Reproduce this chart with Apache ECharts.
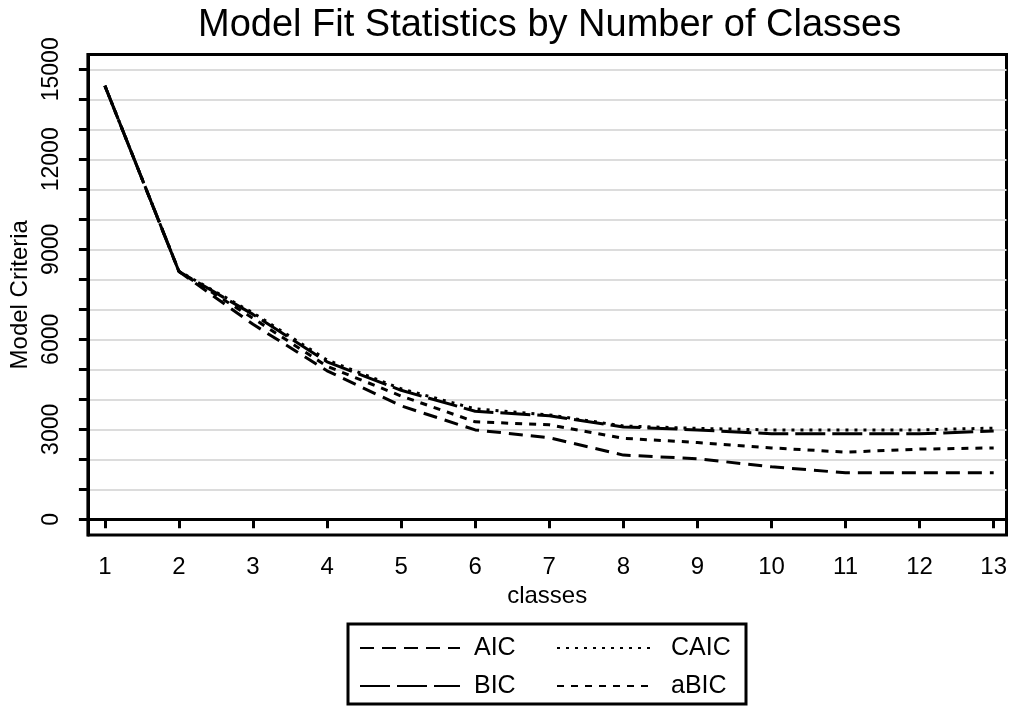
<!DOCTYPE html>
<html>
<head>
<meta charset="utf-8">
<script src="https://cdn.jsdelivr.net/npm/echarts@6/dist/echarts.min.js"></script>
<style>
  html, body { margin: 0; padding: 0; background: #ffffff; }
  #chart { width: 1011px; height: 706px; }
</style>
</head>
<body>
<div id="chart"></div>
<script>
// Information criteria for latent class models with 1..13 classes
const classes = [1, 2, 3, 4, 5, 6, 7, 8, 9, 10, 11, 12, 13];
const aic  = [14450, 8260, 6500, 4950, 3780, 2980, 2720, 2140, 2020, 1750, 1550, 1550, 1550];
const bic  = [14450, 8260, 6830, 5250, 4300, 3600, 3450, 3080, 2980, 2850, 2850, 2850, 2940];
const caic = [14450, 8270, 6880, 5310, 4350, 3680, 3480, 3110, 3030, 2980, 2980, 2980, 3040];
const abic = [14450, 8260, 6700, 5100, 4110, 3250, 3150, 2700, 2560, 2380, 2240, 2340, 2380];

// Axis ticks and labels
const xTickValues = [1, 2, 3, 4, 5, 6, 7, 8, 9, 10, 11, 12, 13];
const yTickValues = [0, 1000, 2000, 3000, 4000, 5000, 6000, 7000, 8000, 9000, 10000, 11000, 12000, 13000, 14000, 15000];
const yLabelValues = [0, 3000, 6000, 9000, 12000, 15000];

const FONT = 'Liberation Sans, Arial, sans-serif';

const seriesDefs = [
  { name: 'AIC',  values: aic,  dash: [14, 8] },
  { name: 'BIC',  values: bic,  dash: [30, 7] },
  { name: 'CAIC', values: caic, dash: [3, 6] },
  { name: 'aBIC', values: abic, dash: [7, 7] }
];

const series = seriesDefs.map(d => ({
  name: d.name,
  type: 'line',
  symbol: 'none',
  data: classes.map((c, i) => [c, d.values[i]]),
  lineStyle: { color: '#000000', width: 3, type: d.dash },
  itemStyle: { color: '#000000' }
}));

// One legend block per entry, laid out as a 2x2 key (line sample only, no marker)
function legendBlock(name, left, centerY, iconW, gap) {
  return {
    data: [name],
    left: left,
    top: centerY - 15,
    orient: 'horizontal',
    padding: 0,
    itemWidth: iconW,
    itemHeight: 30,
    selectedMode: false,
    itemStyle: { color: 'rgba(0,0,0,0)', borderWidth: 0, opacity: 0 },
    textStyle: {
      fontFamily: FONT, fontSize: 25, color: '#000000',
      lineHeight: 30, padding: [0, 0, 0, gap]
    }
  };
}

const chart = echarts.init(document.getElementById('chart'), null, { renderer: 'canvas' });

chart.setOption({
  animation: false,
  backgroundColor: '#ffffff',
  title: {
    text: 'Model Fit Statistics by Number of Classes',
    left: 198,
    top: 7,
    padding: 0,
    textStyle: { fontFamily: FONT, fontSize: 38, fontWeight: 'normal', color: '#000000' }
  },
  grid: {
    left: 87.5, right: 4.5, top: 54.5, bottom: 171,
    show: true, borderColor: '#000000', borderWidth: 3, backgroundColor: 'transparent'
  },
  xAxis: {
    type: 'value',
    min: 0.7706, max: 13.173,
    name: 'classes',
    nameLocation: 'middle',
    nameGap: 42,
    nameTextStyle: { fontFamily: FONT, fontSize: 24, color: '#000000' },
    axisLine: { show: true, lineStyle: { color: '#000000', width: 3 } },
    axisTick: { show: true, length: 9, lineStyle: { color: '#000000', width: 3 }, customValues: xTickValues },
    axisLabel: { fontFamily: FONT, fontSize: 24, color: '#000000', margin: 20, customValues: xTickValues },
    splitLine: { show: false }
  },
  yAxis: {
    type: 'value',
    min: -523, max: 15493,
    name: 'Model Criteria',
    nameLocation: 'middle',
    nameGap: 51,
    nameRotate: 90,
    nameTextStyle: { fontFamily: FONT, fontSize: 24, color: '#000000' },
    axisLine: { show: true, lineStyle: { color: '#000000', width: 3 } },
    axisTick: { show: true, length: 9, lineStyle: { color: '#000000', width: 3 }, customValues: yTickValues },
    axisLabel: {
      fontFamily: FONT, fontSize: 23, color: '#000000', rotate: 90, margin: 25,
      customValues: yLabelValues, formatter: v => String(v)
    },
    splitLine: { show: true, lineStyle: { color: '#dcdcdc', width: 2 } }
  },
  legend: [
    legendBlock('AIC', 359, 648, 100, 9),
    legendBlock('BIC', 359, 686, 100, 9),
    legendBlock('CAIC', 556, 648, 97, 12),
    legendBlock('aBIC', 556, 686, 97, 12)
  ],
  graphic: [{
    type: 'rect',
    shape: { x: 348, y: 624, width: 398, height: 80 },
    style: { fill: 'none', stroke: '#000000', lineWidth: 3 },
    silent: true
  }],
  series: series
});
</script>
</body>
</html>
